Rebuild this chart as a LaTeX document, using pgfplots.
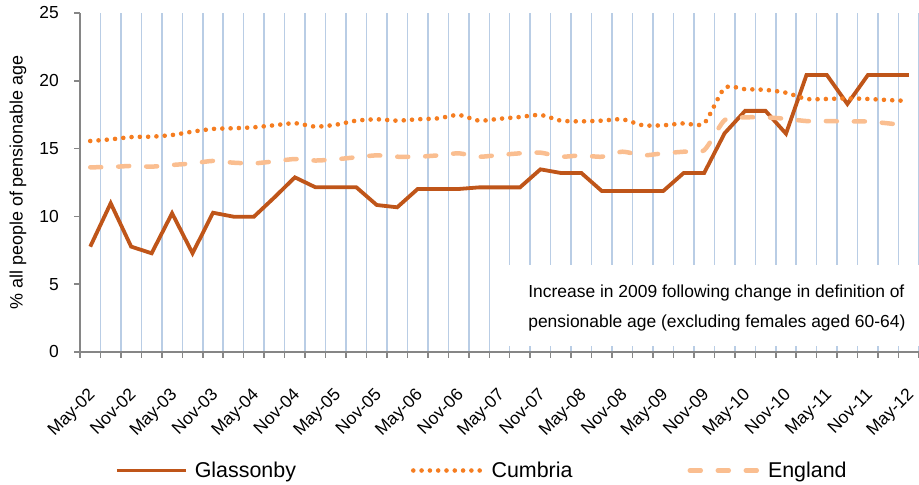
\documentclass[border=0pt]{standalone}
\usepackage{pgfplots}
\pgfplotsset{compat=1.18}
\usepackage{pgfplotstable}
\usepackage{fontspec}
\setmainfont{Liberation Sans}
\definecolor{glass}{RGB}{191,85,25}
\definecolor{cumb}{RGB}{245,125,32}
\definecolor{eng}{RGB}{250,190,144}
\definecolor{gridblue}{RGB}{185,205,229}
\definecolor{axisgray}{RGB}{134,134,134}

\pgfplotstableread{
x g c e
0 7.77 15.56 13.62
1 10.97 15.68 13.64
2 7.77 15.85 13.72
3 7.28 15.88 13.67
4 10.23 16.00 13.79
5 7.28 16.25 13.91
6 10.27 16.45 14.09
7 9.98 16.50 13.96
8 9.98 16.57 13.91
9 11.40 16.72 14.06
10 12.88 16.87 14.23
11 12.15 16.62 14.12
12 12.15 16.76 14.21
13 12.15 17.06 14.36
14 10.84 17.16 14.50
15 10.67 17.06 14.40
16 12.02 17.16 14.40
17 12.02 17.23 14.50
18 12.02 17.48 14.65
19 12.14 17.06 14.40
20 12.14 17.20 14.53
21 12.14 17.33 14.65
22 13.47 17.48 14.70
23 13.20 17.06 14.40
24 13.20 17.01 14.50
25 11.87 17.06 14.40
26 11.87 17.16 14.77
27 11.87 16.72 14.50
28 11.87 16.72 14.65
29 13.20 16.86 14.77
30 13.20 16.86 14.88
31 16.13 19.47 17.10
32 17.78 19.38 17.30
33 17.78 19.33 17.30
34 16.10 19.12 17.20
35 20.42 18.66 17.03
36 20.42 18.66 17.03
37 18.29 18.70 17.00
38 20.42 18.66 17.00
39 20.42 18.58 16.86
40 20.42 18.51 16.69
}\datatable

\begin{document}
\begin{tikzpicture}[x=1bp,y=1bp]
\useasboundingbox (0,0) rectangle (919,485);
\begin{axis}[
  at={(80bp,133bp)}, anchor=south west,
  scale only axis, width=839bp, height=339bp,
  xmin=-0.5, xmax=40.5, ymin=0, ymax=25,
  axis x line*=bottom, axis y line*=left,
  axis line style={axisgray, line width=1.5bp, -},
  xtick={0,2,...,40},
  xticklabels={May-02,Nov-02,May-03,Nov-03,May-04,Nov-04,May-05,Nov-05,May-06,Nov-06,May-07,Nov-07,May-08,Nov-08,May-09,Nov-09,May-10,Nov-10,May-11,Nov-11,May-12},
  minor xtick={-0.5,0.5,...,40.5},
  xminorgrids=true,
  minor grid style={gridblue, line width=1.5bp},
  major x tick style={draw=none},
  ytick={0,5,...,25},
  tick align=outside,
  major tick length=6bp, minor tick length=6bp,
  tick style={axisgray, line width=1.5bp},
  /pgf/number format/assume math mode=true,
  xticklabel style={font=\fontsize{17.5}{20}\selectfont, xshift=-3bp, yshift=-29bp, rotate=45, anchor=north east, inner sep=0pt},
  yticklabel style={font=\fontsize{17.5}{20}\selectfont, inner sep=0pt, xshift=-15bp},
  ylabel={\% all people of pensionable age},
  ylabel style={font=\fontsize{18}{20}\selectfont, at={(axis description cs:-0.0739,0.5)}, anchor=center, inner sep=0pt},
  no markers,
  legend image code/.code={\draw[#1] (0bp,0bp) -- (69bp,0bp);},
  legend style={at={(axis description cs:0.0417,-0.3496)}, anchor=west, draw=none, fill=none,
    inner sep=0pt, outer sep=0pt, legend columns=3,
    nodes={inner sep=0pt, font=\fontsize{21.5}{24}\selectfont},
    /tikz/every odd column/.append style={column sep=7bp},
    /tikz/every even column/.append style={column sep=115bp}},
]
\addplot[glass, line width=3.8bp] table[x=x,y=g]{\datatable};
\addlegendentry{Glassonby}
\addplot[cumb, line width=4.6bp, line cap=round, dash pattern=on 0bp off 8.3bp, smooth, tension=0.4] table[x=x,y=c]{\datatable};
\addlegendentry{Cumbria}
\addplot[eng, line width=4.5bp, line cap=round, dash pattern=on 11bp off 17bp, smooth, tension=0.4] table[x=x,y=e]{\datatable};
\addlegendentry{England}
\fill[white] (axis cs:20.03,0.44) rectangle (axis cs:40.5,6.42);
\node[anchor=base west, font=\fontsize{17.5}{20}\selectfont, inner sep=0pt] at (axis cs:21.4,4.0) {Increase in 2009 following change in definition of};
\node[anchor=base west, font=\fontsize{17.5}{20}\selectfont, inner sep=0pt] at (axis cs:21.4,1.82) {pensionable age (excluding females aged 60-64)};
\end{axis}
\end{tikzpicture}
\end{document}
